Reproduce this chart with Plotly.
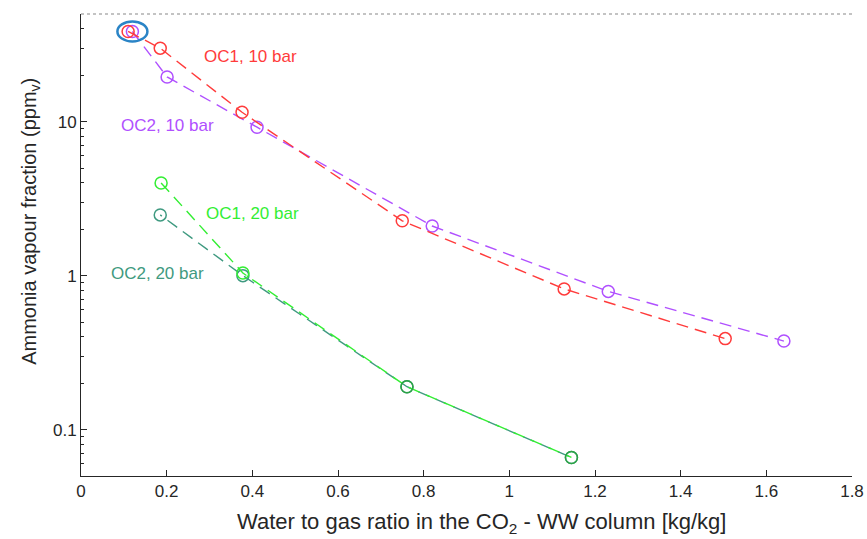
import math
import plotly.graph_objects as go

# Ammonia vapour fraction vs water-to-gas ratio for two operating cases
x_oc1_10 = [0.11, 0.185, 0.376, 0.75, 1.128, 1.504]
y_oc1_10 = [38.5, 30.0, 11.5, 2.27, 0.82, 0.39]

x_oc2_10 = [0.12, 0.201, 0.411, 0.82, 1.231, 1.641]
y_oc2_10 = [38.5, 19.5, 9.2, 2.10, 0.79, 0.376]

x_oc1_20 = [0.187, 0.378, 0.761, 1.145]
y_oc1_20 = [4.0, 1.04, 0.19, 0.066]

x_oc2_20 = [0.185, 0.378, 0.761, 1.145]
y_oc2_20 = [2.48, 1.0, 0.19, 0.066]

names = ["OC2, 20 bar", "OC1, 20 bar", "OC2, 10 bar", "OC1, 10 bar"]
colors = ["#3f9a80", "#33ee33", "#b050ff", "#ff3b3b"]
# where the two 20-bar circles coincide their outlines blend into a mid green
marker_colors = [
    "#3f9a80",
    ["#33ee33", "#33ee33", "#2ca345", "#2ca345"],
    "#b050ff",
    "#ff3b3b",
]
# teal dashes are phase-shifted so they interleave with the green ones
dashes = ["2px,7px,10px,0px", "12px,7px", "12px,7px", "12px,7px"]
xs_all = [x_oc2_20, x_oc1_20, x_oc2_10, x_oc1_10]
ys_all = [y_oc2_20, y_oc1_20, y_oc2_10, y_oc1_10]

# label text positions (data coordinates)
label_x = [0.178, 0.40, 0.203, 0.395]
label_y = [1.04, 2.55, 9.4, 26.3]

y_range = [0.05, 50]
y_major = [0.1, 1, 10]
y_minor = [0.05, 0.06, 0.07, 0.08, 0.09, 0.2, 0.3, 0.4, 0.5, 0.6, 0.7, 0.8, 0.9,
           2, 3, 4, 5, 6, 7, 8, 9, 20, 30, 40, 50]
x_ticks = [0, 0.2, 0.4, 0.6, 0.8, 1, 1.2, 1.4, 1.6, 1.8]

fig = go.Figure()
for name, xs, ys, col, mcol, dsh in zip(names, xs_all, ys_all, colors, marker_colors, dashes):
    fig.add_trace(go.Scatter(
        x=xs, y=ys, mode="lines+markers", name=name,
        line=dict(color=col, width=1.4, dash=dsh),
        marker=dict(symbol="circle-open", size=12, color=mcol, line=dict(width=1.5)),
        showlegend=False,
    ))

for name, col, lx, ly in zip(names, colors, label_x, label_y):
    fig.add_annotation(x=lx, y=math.log10(ly), text=name, showarrow=False,
                       font=dict(family="Arial", size=17, color=col),
                       xanchor="center", yanchor="middle")

# axis titles
fig.add_annotation(xref="paper", yref="paper", x=0.519, y=-0.102,
                   text="Water to gas ratio in the CO<sub>2</sub> - WW column [kg/kg]",
                   showarrow=False, font=dict(family="Arial", size=22, color="#262626"),
                   xanchor="center", yanchor="middle")
fig.add_annotation(xref="paper", yref="paper", x=-0.065, y=0.552,
                   text="Ammonia vapour fraction (ppm<sub>v</sub>)", textangle=-90,
                   showarrow=False, font=dict(family="Arial", size=20, color="#262626"),
                   xanchor="center", yanchor="middle")

# highlight ellipse around the leftmost 10-bar points
lo, hi = math.log10(y_range[0]), math.log10(y_range[1])
ell_y = (math.log10(y_oc2_10[0]) - lo) / (hi - lo)
fig.add_shape(type="circle", xref="x", yref="paper",
              xsizemode="pixel", ysizemode="pixel",
              xanchor=x_oc2_10[0], yanchor=ell_y,
              x0=-15, x1=15, y0=-10, y1=10,
              line=dict(color="#2a84c6", width=2.5))

# dotted frame line along the top of the axes
fig.add_shape(type="line", xref="paper", yref="paper", x0=0, x1=1, y0=1, y1=1,
              line=dict(color="#888888", width=1.2, dash="dot"))

fig.update_layout(
    width=867, height=539,
    margin=dict(l=81, r=15, t=14, b=63),
    plot_bgcolor="white", paper_bgcolor="white",
    font=dict(family="Arial", color="#262626"),
)
fig.update_xaxes(
    range=[0, 1.8], tickvals=x_ticks, ticktext=[f"{v:g}" for v in x_ticks],
    showgrid=False, zeroline=False, showline=True, linecolor="#262626", linewidth=1,
    ticks="inside", ticklen=6, tickcolor="#262626", tickfont=dict(size=17),
    automargin=False,
)
fig.update_yaxes(
    type="log", range=[lo, hi],
    tickvals=y_major, ticktext=["0.1", "1", "10"],
    showgrid=False, zeroline=False, showline=True, linecolor="#262626", linewidth=1,
    ticks="inside", ticklen=6, tickcolor="#262626", tickfont=dict(size=17),
    minor=dict(tickvals=y_minor, ticks="inside", ticklen=3, tickcolor="#262626"),
    automargin=False,
)

fig.write_html("out.html")
